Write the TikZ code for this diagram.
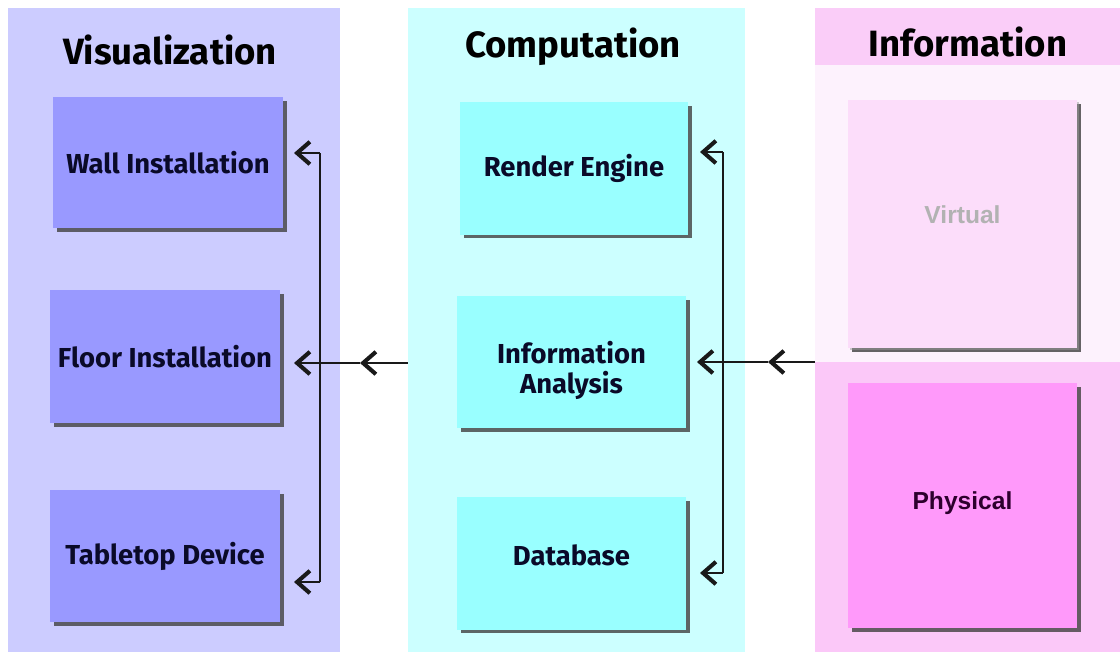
\documentclass[tikz,border=0pt]{standalone}
\usepackage{fontspec}
\setmainfont{Fira Sans}
\newfontfamily\plainsans{Liberation Sans}
\usetikzlibrary{arrows.meta,shadows,positioning}

\definecolor{vispanel}{RGB}{204,204,255}
\definecolor{visbox}{RGB}{153,153,255}
\definecolor{comppanel}{RGB}{204,255,255}
\definecolor{compbox}{RGB}{153,255,255}
\definecolor{infohead}{RGB}{250,205,248}
\definecolor{infolight}{RGB}{253,242,253}
\definecolor{infopink}{RGB}{251,200,248}
\definecolor{virtbox}{RGB}{252,221,250}
\definecolor{physbox}{RGB}{255,153,250}
\definecolor{inktext}{RGB}{10,10,40}
\definecolor{phystext}{RGB}{45,0,45}

\tikzset{
  panel/.style={draw=none, inner sep=0pt},
  title/.style={font=\bfseries\fontsize{26}{28}\selectfont, text=black},
  unit/.style={draw=none, minimum width=5.75cm, minimum height=3.3cm,
    font=\bfseries\fontsize{19.5}{21.5}\selectfont, text=inktext, align=center,
    drop shadow={shadow xshift=0.09cm, shadow yshift=-0.09cm, fill=black!75, opacity=0.8}},
  infounit/.style={unit, minimum width=5.725cm, font=\plainsans\bfseries\fontsize{17.5}{20}\selectfont},
  link/.style={line width=1.4pt, draw=black!90},
}

\begin{document}
\begin{tikzpicture}[x=0.025cm, y=-0.025cm, >={Straight Barb[length=3.2mm,width=5.6mm,line width=2.9pt]}]
	\useasboundingbox (0,0) rectangle (1120,652);
	\fill[white] (0,0) rectangle (1120,652);

	% panels
	\node[panel, fill=vispanel, minimum width=8.3cm, minimum height=16.1cm] (vis) at (174,330) {};
	\node[panel, fill=comppanel, minimum width=8.425cm, minimum height=16.1cm] (comp) at (576.5,330) {};
	\node[panel, fill=infolight, minimum width=7.625cm, minimum height=16.1cm] (info) at (967.5,330) {};
	\node[panel, fill=infohead, minimum width=7.625cm, minimum height=1.425cm] (infohd) at (967.5,36.5) {};
	\node[panel, fill=infopink, minimum width=7.625cm, minimum height=7.25cm] (infolow) at (967.5,507) {};

	% titles
	\node[title] (vistitle) at (170,50) {Visualization};
	\node[title] (comptitle) at (573,47) {Computation};
	\node[title] (infotitle) at (968,42) {Information};

	% boxes
	\node[unit, fill=visbox, minimum height=3.275cm] (wall) at (168,162.5) {Wall Installation};
	\node[unit, fill=visbox, minimum height=3.325cm] (floor) at (165,356.5) {Floor Installation};
	\node[unit, fill=visbox] (table) at (165,556) {Tabletop Device};

	\node[unit, fill=compbox, minimum width=5.7cm] (render) at (574,168.5) {Render Engine};
	\node[unit, fill=compbox, minimum width=5.725cm, text height=1.75cm] (analysis) at (571.5,362) {Information\\Analysis};
	\node[unit, fill=compbox, minimum width=5.725cm, text depth=0.4cm] (database) at (571.5,563.5) {Database};

	\node[infounit, fill=virtbox, minimum height=6.2cm, text=black!30, text depth=0.45cm,
	  drop shadow={shadow xshift=0.06cm, shadow yshift=-0.06cm, fill=black!40, opacity=0.5}] (virtual) at (962.5,224) {Virtual};
	\node[infounit, fill=physbox, minimum height=6.125cm, text=phystext, text depth=0.25cm] (physical) at (962.5,505.5) {Physical};

	% connectors
	\coordinate (vtop) at (320,153);
	\coordinate (vmid) at (320,363);
	\coordinate (vbot) at (320,582);
	\coordinate (vhalf) at (360,363);
	\coordinate (ctop) at (723,152);
	\coordinate (cmid) at (723,362);
	\coordinate (cbot) at (723,573);
	\coordinate (chalf) at (768,362);

	\draw[link] (vtop) -- (vbot);
	\draw[link, ->] (vtop) -- (294,153);
	\draw[link, ->] (vmid) -- (294,363);
	\draw[link, ->] (vbot) -- (294,582);
	\draw[link, ->] (comp.west |- vmid) -- (vhalf);
	\draw[link] (vhalf) -- (vmid);

	\draw[link] (ctop) -- (cbot);
	\draw[link, ->] (ctop) -- (700,152);
	\draw[link, ->] (cmid) -- (697,362);
	\draw[link, ->] (cbot) -- (700,573);
	\draw[link, ->] (info.west |- cmid) -- (chalf);
	\draw[link] (chalf) -- (cmid);
\end{tikzpicture}
\end{document}
